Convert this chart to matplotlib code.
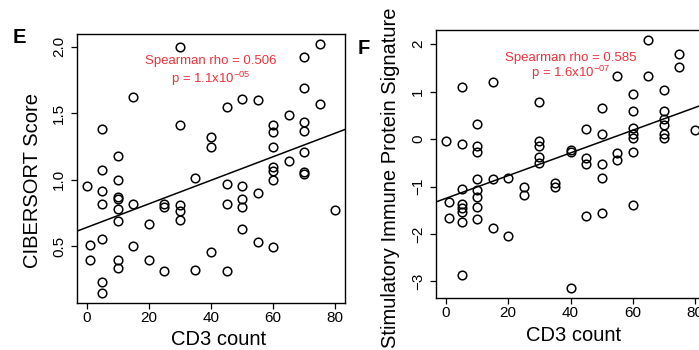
import numpy as np
import matplotlib
matplotlib.use("Agg")
import matplotlib.pyplot as plt

plt.rcParams['font.family'] = ['Liberation Sans', 'DejaVu Sans']
plt.rcParams['mathtext.fontset'] = 'custom'
plt.rcParams['mathtext.rm'] = 'Liberation Sans'
plt.rcParams['mathtext.it'] = 'Liberation Sans:italic'

# Panel E: CD3 count vs CIBERSORT score
cd3_e = [30, 75, 70, 15, 70, 45, 50, 55, 75, 65, 30, 5, 60, 60, 70, 70, 40, 40,
         60, 10, 65, 70, 5, 60, 60, 70, 70, 60, 0, 5, 10, 35, 45, 50, 55, 5,
         10, 10, 10, 15, 25, 25, 30, 30, 30, 45, 50, 50, 10, 20, 80, 50, 5, 1,
         15, 55, 60, 40, 1, 10, 10, 20, 25, 35, 45, 5, 5]
cibersort = [2.00, 2.02, 1.92, 1.62, 1.69, 1.55, 1.61, 1.60, 1.57, 1.49, 1.415,
             1.38, 1.41, 1.36, 1.435, 1.37, 1.32, 1.25, 1.245, 1.18, 1.14, 1.21,
             1.077, 1.094, 1.064, 1.06, 1.04, 1.00, 0.95, 0.916, 1.00, 1.01, 0.97,
             0.95, 0.90, 0.816, 0.868, 0.858, 0.78, 0.816, 0.821, 0.796, 0.813,
             0.768, 0.70, 0.82, 0.859, 0.796, 0.688, 0.671, 0.77, 0.633, 0.553,
             0.508, 0.503, 0.533, 0.495, 0.46, 0.40, 0.40, 0.337, 0.40, 0.315,
             0.325, 0.315, 0.232, 0.15]

# Panel F: CD3 count vs stimulatory immune protein signature
cd3_f = [0, 5, 5, 10, 10, 10, 15, 30, 30, 30, 30, 30, 40, 40, 45, 45, 45, 50,
         50, 50, 55, 55, 55, 60, 60, 60, 60, 60, 60, 65, 65, 70, 70, 70, 70, 70,
         70, 75, 75, 80, 1, 1, 5, 5, 5, 5, 5, 5, 10, 10, 10, 10, 10, 15, 15, 20,
         20, 25, 25, 35, 35, 40, 45, 50, 50, 60]
stim_sig = [-0.05, 1.09, -0.10, 0.32, -0.15, -0.27, 1.20, 0.78, -0.05, -0.15,
            -0.38, -0.50, -0.24, -0.28, 0.21, -0.40, -0.52, 0.65, 0.10, -0.52,
            1.33, -0.29, -0.45, 0.95, 0.60, 0.23, 0.11, 0.03, -0.28, 2.09, 1.32,
            1.03, 0.60, 0.42, 0.29, 0.11, 0.02, 1.79, 1.52, 0.20, -1.32, -1.67,
            -1.06, -1.36, -1.45, -1.53, -1.75, -2.87, -0.84, -1.08, -1.23, -1.44,
            -1.69, -0.84, -1.88, -0.83, -2.05, -1.01, -1.17, -0.92, -1.02, -3.14,
            -1.62, -0.83, -1.55, -1.38]

x_ticks = [0, 20, 40, 60, 80]
e_yticks = [0.5, 1.0, 1.5, 2.0]
e_yticklabels = ['0.5', '1.0', '1.5', '2.0']
f_yticks = [-3, -2, -1, 0, 1, 2]
red = '#F0303A'

W, H = 699, 350
fig = plt.figure(figsize=(W / 100, H / 100), dpi=100)


def px_axes(l, t, r, b):
    return fig.add_axes([l / W, 1 - b / H, (r - l) / W, (b - t) / H])


def scatter_panel(ax, x, y, yticks, ylabel, rho_text, p_text, text_pos):
    x = np.asarray(x, float)
    y = np.asarray(y, float)
    ax.plot(x, y, 'o', ms=6.2, mfc='none', mec='black', mew=1.1)
    # least squares line, as abline(lm(y ~ x)) in R
    slope, icpt = np.polyfit(x, y, 1)
    pad = 0.04 * (x.max() - x.min())
    xl = (x.min() - pad, x.max() + pad)
    ypad = 0.04 * (y.max() - y.min())
    ax.set_xlim(xl)
    ax.set_ylim(y.min() - ypad, y.max() + ypad)
    xx = np.array(xl)
    ax.plot(xx, icpt + slope * xx, color='black', lw=1.1)
    ax.set_xticks(x_ticks)
    ax.set_yticks(yticks)
    ax.tick_params(length=4, width=0.9, labelsize=11, direction='out')
    ax.tick_params(axis='x', pad=2)
    ax.tick_params(axis='y', pad=4, labelrotation=90)
    for s in ax.spines.values():
        s.set_linewidth(1.0)
    ax.set_xlabel('CD3 count', fontsize=14.5)
    ax.set_ylabel(ylabel, fontsize=14.5)
    tx, ty1, ty2 = text_pos
    ax.text(tx, ty1, rho_text, color=red, fontsize=9.5, ha='center', va='center')
    ax.text(tx, ty2, p_text, color=red, fontsize=9.5, ha='center', va='center')


ax_e = px_axes(77, 34, 345, 303)
scatter_panel(ax_e, cd3_e, cibersort, e_yticks, 'CIBERSORT Score',
              'Spearman rho = 0.506', r'p = 1.1x10$^{\mathrm{-05}}$',
              (40, 1.89, 1.76))
ax_e.set_yticklabels(e_yticklabels)
for lab in ax_e.get_yticklabels():
    lab.set_va('center')
ax_e.xaxis.set_label_coords(0.53, -0.10)
ax_e.yaxis.set_label_coords(-0.131, 0.455)

ax_f = px_axes(436, 30, 705, 298)
scatter_panel(ax_f, cd3_f, stim_sig, f_yticks,
              'Stimulatory Immune Protein Signature',
              'Spearman rho = 0.585', r'p = 1.6x10$^{\mathrm{-07}}$',
              (40, 1.71, 1.40))
for lab in ax_f.get_yticklabels():
    lab.set_va('center')
ax_f.xaxis.set_label_coords(0.51, -0.105)
ax_f.yaxis.set_label_coords(-0.134, 0.45)

fig.text(13 / W, 1 - 43 / H, 'E', fontsize=14.5, fontweight='bold', va='baseline')
fig.text(358 / W, 1 - 54 / H, 'F', fontsize=14.5, fontweight='bold', va='baseline')

fig.savefig('out.png', dpi=100)
